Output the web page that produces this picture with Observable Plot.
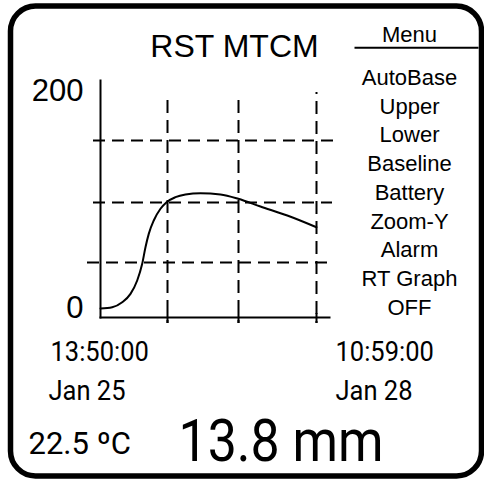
<!DOCTYPE html>
<html>
<head>
<meta charset="utf-8">
<script src="https://cdn.jsdelivr.net/npm/d3@7"></script>
<script src="https://cdn.jsdelivr.net/npm/@observablehq/plot@0.6"></script>
<style>
  html, body { margin: 0; padding: 0; background: #fff; }
  svg { display: block; }
</style>
</head>
<body>
<script>
// ---- data ----
const title = "RST MTCM";
const menuTitle = "Menu";
const menuItems = ["AutoBase", "Upper", "Lower", "Baseline", "Battery", "Zoom-Y", "Alarm", "RT Graph", "OFF"];
const startTime = "13:50:00";
const startDate = "Jan 25";
const endTime = "10:59:00";
const endDate = "Jan 28";
const temperature = "22.5 ºC";
const reading = "13.8 mm";

// hours since start (13:50:00 Jan 25) and reading value
const hours = [0, 3.75, 6.95, 9.6, 11.75, 13.35, 14.4, 15.45, 17.05, 19.2, 21.15, 24.0, 27.2, 32.0, 38.4, 44.1, 51.2, 59.8, 69.15];
const values = [0, 1.2, 5.8, 13.5, 25.8, 41.2, 56.5, 68.8, 81.1, 91.9, 98.0, 102.6, 105.1, 106.3, 105.1, 101.1, 94.0, 85.7, 74.9];

const yTicks = [0, 200];
const xGrid = [21.45, 44.18, 69.15];
const yGrid = [42.4, 97.7, 154.8];

const series = hours.map((h, i) => ({hours: h, value: values[i]}));

const sans = "'Liberation Sans', Arial, sans-serif";
const robo = "Roboto, sans-serif";

const dashH = {strokeWidth: 2, strokeDasharray: "12,7", stroke: "#000"};
const dashV = {strokeWidth: 2, strokeDasharray: "13,7", stroke: "#000"};

const svg = Plot.plot({
  width: 484,
  height: 480,
  marginLeft: 100,
  marginRight: 168,
  marginTop: 91,
  marginBottom: 172,
  x: {domain: [0, 69.15], axis: null},
  y: {domain: [0, 200], axis: null},
  style: {background: "#fff", color: "#000", fontFamily: sans, overflow: "visible"},
  marks: [
    // outer rounded border
    Plot.frame({rx: 25, insetLeft: -90, insetTop: -85.5, insetRight: -165, insetBottom: -167.5, strokeWidth: 5.5, stroke: "#000"}),
    // dashed grid
    Plot.ruleY(yGrid.slice(0, 1), {insetLeft: -13, insetRight: -16, ...dashH}),
    Plot.ruleY(yGrid.slice(1, 2), {insetLeft: -7, insetRight: -16, ...dashH}),
    Plot.ruleY(yGrid.slice(2), {insetLeft: -7, insetRight: -22, ...dashH}),
    Plot.ruleX(xGrid.slice(0, 2), {insetTop: 9, insetBottom: -15, ...dashV}),
    Plot.ruleX(xGrid.slice(2), {insetTop: 1, insetBottom: -15, strokeDashoffset: 11, ...dashV}),
    Plot.ruleX(xGrid, {insetTop: 222, insetBottom: -15, strokeWidth: 2, stroke: "#000"}),
    // axis lines
    Plot.frame({anchor: "left", insetTop: -11, insetBottom: -9, strokeWidth: 2, stroke: "#000"}),
    Plot.frame({anchor: "bottom", insetBottom: -9, insetRight: -13, strokeWidth: 2, stroke: "#000"}),
    Plot.axisY({ticks: yTicks, tickSize: 0, tickPadding: 17, fontSize: 31, label: null, fill: "#000", fontFamily: sans}),
    // curve
    Plot.line(series, {x: "hours", y: "value", curve: "monotone-x", strokeWidth: 2, stroke: "#000"}),
    // title + menu
    Plot.text([title], {frameAnchor: "top-left", textAnchor: "middle", lineAnchor: "middle", dx: 134, dy: -45, fontSize: 32, fontFamily: sans, fill: "#000"}),
    Plot.text([menuTitle], {frameAnchor: "top-left", textAnchor: "middle", lineAnchor: "middle", dx: 309, dy: -57, fontSize: 22, fontFamily: sans, fill: "#000"}),
    Plot.frame({anchor: "top", insetTop: -43.7, insetLeft: 255, insetRight: -161, strokeWidth: 2, stroke: "#000"}),
    Plot.text([menuItems.join("\n")], {frameAnchor: "top-left", textAnchor: "middle", lineAnchor: "top", lineHeight: 1.307, dx: 309, dy: -27, fontSize: 22, fontFamily: sans, fill: "#000"}),
    // time labels
    Plot.text([startTime], {frameAnchor: "bottom-left", textAnchor: "start", lineAnchor: "middle", dx: -50, dy: 44, fontSize: 28, fontFamily: robo, fill: "#000"}),
    Plot.text([startDate], {frameAnchor: "bottom-left", textAnchor: "start", lineAnchor: "middle", dx: -52, dy: 83, fontSize: 28, fontFamily: robo, fill: "#000"}),
    Plot.text([endTime], {frameAnchor: "bottom-left", textAnchor: "start", lineAnchor: "middle", dx: 235, dy: 44, fontSize: 28, fontFamily: robo, fill: "#000"}),
    Plot.text([endDate], {frameAnchor: "bottom-left", textAnchor: "start", lineAnchor: "middle", dx: 235, dy: 83, fontSize: 28, fontFamily: robo, fill: "#000"}),
    // readings
    Plot.text([temperature], {frameAnchor: "bottom-left", textAnchor: "start", lineAnchor: "middle", dx: -72, dy: 136, fontSize: 31, fontFamily: robo, fill: "#000"}),
    Plot.text([reading], {frameAnchor: "bottom-left", textAnchor: "start", lineAnchor: "middle", dx: 78, dy: 133.5, fontSize: 60, fontFamily: robo, fill: "#000"})
  ]
});
document.body.append(svg);

// condensed lettering (narrow face of the device display)
function condense(labels, k) {
  d3.select(svg).selectAll("text").filter(function () {
    return labels.includes(this.textContent);
  }).each(function () {
    const w = this.getComputedTextLength();
    if (w > 0) {
      this.setAttribute("textLength", (w * k).toFixed(1));
      this.setAttribute("lengthAdjust", "spacingAndGlyphs");
    }
  });
}
condense([startTime, startDate, endTime, endDate], 0.91);
condense([reading], 0.865);
</script>
</body>
</html>
